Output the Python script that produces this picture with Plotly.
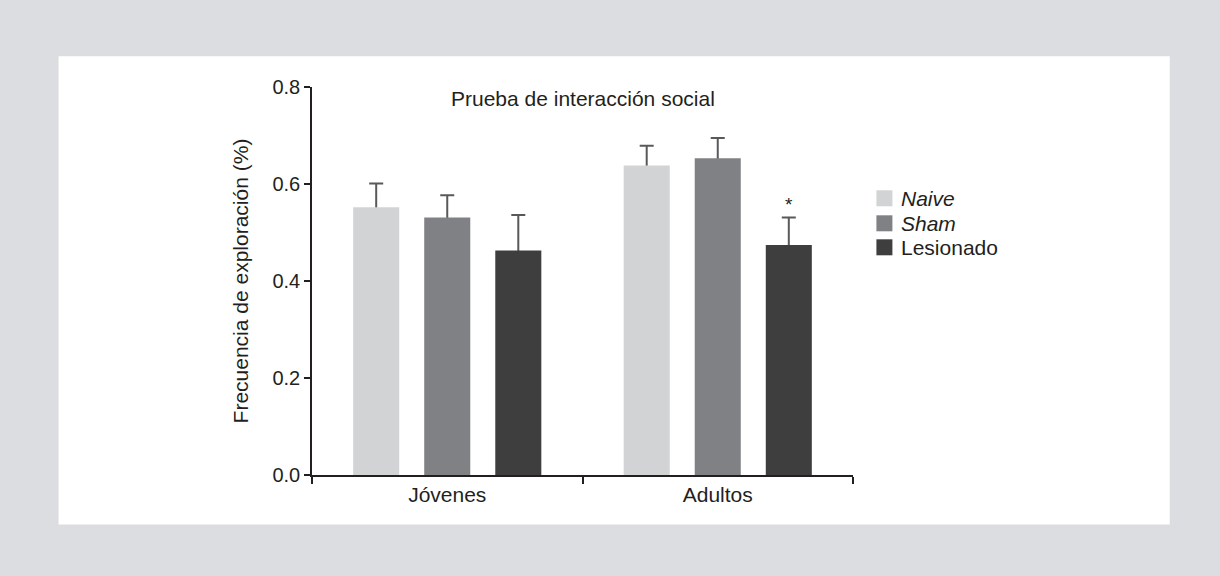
import plotly.graph_objects as go

# Social interaction test: exploration frequency by age group and condition
groups = ["Jóvenes", "Adultos"]
conditions = ["<i>Naive</i>", "<i>Sham</i>", "Lesionado"]
naive_mean = [0.552, 0.638]
naive_sem = [0.049, 0.041]
sham_mean = [0.531, 0.653]
sham_sem = [0.046, 0.042]
lesion_mean = [0.463, 0.474]
lesion_sem = [0.073, 0.057]
colors = ["#d1d3d4", "#808184", "#3e3e3f"]
y_ticks = [0.0, 0.2, 0.4, 0.6, 0.8]

means = [naive_mean, sham_mean, lesion_mean]
sems = [naive_sem, sham_sem, lesion_sem]

W, H = 1220, 576
ML, MR, MT, MB = 311.7, 367.4, 86.7, 101.3
PW, PH = W - ML - MR, H - MT - MB
FONT = "Liberation Sans, Arial, sans-serif"
INK = "#231f20"
BARGAP, GROUPGAP = 0.212, 0.352


def px_x(px):
    return (px - ML) / PW


def px_y(py):
    return (H - MB - py) / PH


fig = go.Figure()
# error bars first (on transparent bars), so the solid bars hide their lower half
for i, (name, m, s) in enumerate(zip(conditions, means, sems)):
    fig.add_trace(go.Bar(
        x=groups, y=m, name=name, offsetgroup=str(i),
        marker=dict(color="rgba(0,0,0,0)", line=dict(width=0)),
        error_y=dict(type="data", array=s, color="#58595b", thickness=2, width=7),
        showlegend=False, hoverinfo="skip",
    ))
for i, (name, m, c) in enumerate(zip(conditions, means, colors)):
    fig.add_trace(go.Bar(
        x=groups, y=m, name=name, offsetgroup=str(i),
        marker=dict(color=c, line=dict(width=0)),
        showlegend=False,
    ))

# white panel behind the chart
fig.add_shape(type="rect", xref="paper", yref="paper", layer="below",
              x0=px_x(58.3), x1=px_x(1169.3), y0=px_y(524.3), y1=px_y(56),
              fillcolor="white", line=dict(width=0))

# legend: swatches and labels
row_y = [198, 223, 247]
for name, c, ry in zip(conditions, colors, row_y):
    fig.add_shape(type="rect", xref="paper", yref="paper",
                  x0=px_x(876), x1=px_x(892), y0=px_y(ry + 8), y1=px_y(ry - 8),
                  fillcolor=c, line=dict(width=0))
    fig.add_annotation(xref="paper", yref="paper", x=px_x(899), y=px_y(ry),
                       xanchor="left", yanchor="middle", text=name, showarrow=False,
                       font=dict(family=FONT, size=21, color=INK))

# significance marker above the lesioned adult group
slot = (1 - BARGAP) / len(conditions)
fig.add_annotation(x=1 + slot, y=lesion_mean[1] + lesion_sem[1], xref="x", yref="y",
                   text="*", showarrow=False, yanchor="bottom", yshift=0,
                   font=dict(family=FONT, size=19, color=INK))

# chart title
fig.add_annotation(xref="paper", yref="paper", x=0.5, y=px_y(98), text="Prueba de interacción social",
                   showarrow=False, xanchor="center", yanchor="middle",
                   font=dict(family=FONT, size=21, color=INK))

fig.update_layout(
    width=W, height=H,
    margin=dict(l=ML, r=MR, t=MT, b=MB, autoexpand=False),
    paper_bgcolor="#dcdde0", plot_bgcolor="white",
    barmode="group", bargap=BARGAP, bargroupgap=GROUPGAP,
    font=dict(family=FONT, size=20, color=INK),
    xaxis=dict(range=[-0.5, 1.5], showline=True, linecolor=INK, linewidth=1.5,
               ticks="outside", tickson="boundaries", ticklen=7, tickwidth=1.5, tickcolor=INK,
               showgrid=False, zeroline=False, tickfont=dict(size=21), fixedrange=True),
    yaxis=dict(range=[0, 0.8], tickvals=y_ticks, tickformat=".1f", showline=True,
               linecolor=INK, linewidth=1.5, ticks="outside", ticklen=6, tickwidth=1.5,
               tickcolor=INK, showgrid=False, zeroline=False, tickfont=dict(size=20),
               title=dict(text="Frecuencia de exploración (%)", font=dict(size=21), standoff=18)),
    showlegend=False,
)

fig.write_html("out.html")
